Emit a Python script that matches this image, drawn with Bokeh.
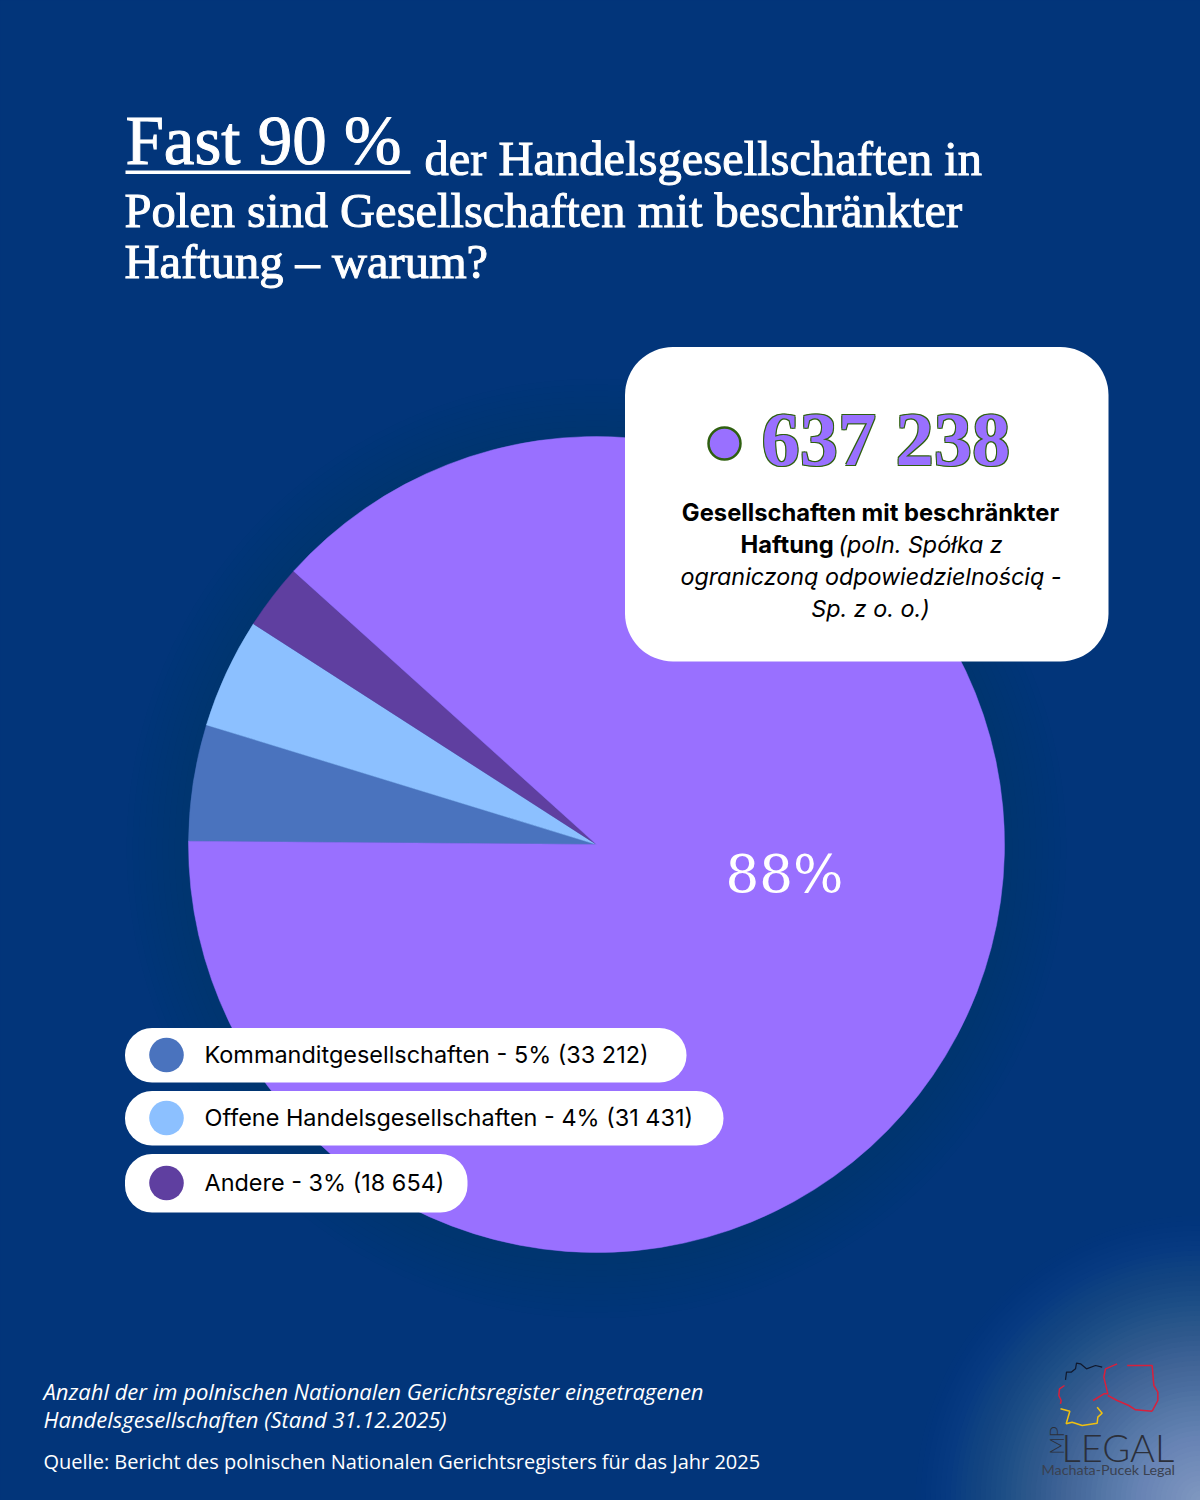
from math import pi
from bokeh.plotting import figure
from bokeh.models import Range1d
from bokeh.core.properties import value
from bokeh.embed import file_html
from bokeh.resources import INLINE

# ---- data ----
categories = ["Gesellschaften mit beschränkter Haftung", "Kommanditgesellschaften", "Offene Handelsgesellschaften", "Andere"]
counts = [637238, 33212, 31431, 18654]
colors = ["#9970ff", "#4a73be", "#8cc0ff", "#5f3fa0"]
legend_labels = ["Kommanditgesellschaften - 5% (33 212)", "Offene Handelsgesellschaften - 4% (31 431)", "Andere - 3% (18 654)"]
pie_label = "88%"
big_number = "637 238"
title_head = "Fast 90 %"
title_lines = ["der Handelsgesellschaften in", "Polen sind Gesellschaften mit beschränkter", "Haftung – warum?"]
footer_notes = ["Anzahl der im polnischen Nationalen Gerichtsregister eingetragenen", "Handelsgesellschaften (Stand 31.12.2025)"]
footer_source = "Quelle: Bericht des polnischen Nationalen Gerichtsregisters für das Jahr 2025"

BG = "#02357a"
GREEN = "#2f6010"
p = figure(width=1200, height=1500, x_range=Range1d(0, 1200), y_range=Range1d(1500, 0),
           toolbar_location=None, output_backend="svg", min_border=0, outline_line_color=None,
           background_fill_color=BG, border_fill_color=BG)
p.axis.visible = False
p.grid.visible = False


def T(x, y, s, size, font="Inter", style="normal", color="black", align="left", angle=0.0, **kw):
    # bokeh's svg text sits about 0.37 em below the requested alphabetic baseline
    p.text(x=[x], y=[y - 0.37 * size], text=[s], text_color=color, text_font=value(font), text_font_style=style,
           text_font_size=f"{size}px", text_align=align, text_baseline="alphabetic", angle=[angle], **kw)


# corner glow
for i in range(57):
    p.circle(x=[1200], y=[1500], radius=[285 - i * 5], fill_color="#aabfdc", fill_alpha=0.009 + 0.0007 * i, line_color=None)

# pie shadow
for i in range(10):
    p.circle(x=[596], y=[848], radius=[470 - i * 6], fill_color="#00224f", fill_alpha=0.015, line_color=None)

# pie: starts just above 9 o'clock and runs clockwise on screen
total = sum(counts)
cx, cy, r = 596, 844, 408
ang = 179.55 * pi / 180
for idx in [1, 2, 3, 0]:
    sweep = counts[idx] / total * 2 * pi
    p.wedge(x=[cx], y=[cy], radius=[r], start_angle=[ang - sweep], end_angle=[ang],
            fill_color=colors[idx], line_color=colors[idx], line_width=0.5)
    ang -= sweep

T(784, 893, pie_label, 53, font="DejaVu Serif", color="white", align="center")

# callout
p.quad(left=[624.5], right=[1108], top=[346.5], bottom=[661], fill_color="white", line_color=None, border_radius=48)
p.circle(x=[724], y=[443], radius=[16], fill_color=colors[0], line_color=GREEN, line_width=2.5)
for dx, dy in [(-1, -1), (1, -1), (-1, 1), (1, 1)]:
    T(761 + dx, 467.5 + dy, big_number, 76.5, font="Liberation Serif", style="bold", color=GREEN)
T(761, 467.5, big_number, 76.5, font="Liberation Serif", style="bold", color=colors[0])
T(870, 521, "Gesellschaften mit beschränkter", 23.75, style="bold", align="center")
T(740, 553, "Haftung", 23.75, style="bold")
T(838, 553, "(poln. Spółka z", 23.3, style="italic")
T(870.5, 585, "ograniczoną odpowiedzielnością -", 23.3, style="italic", align="center")
T(870, 617, "Sp. z o. o.)", 23.3, style="italic", align="center")

# legend pills
pill_right = [686, 723, 467]
pill_top = [1028, 1091, 1154]
pill_bottom = [1082, 1145, 1212]
for i, label in enumerate(legend_labels):
    mid = (pill_top[i] + pill_bottom[i]) / 2
    p.quad(left=[124.5], right=[pill_right[i]], top=[pill_top[i] - 0.5], bottom=[pill_bottom[i]],
           fill_color="white", line_color=None, border_radius=27)
    p.circle(x=[166], y=[mid - 0.5], radius=[17.3], fill_color=colors[i + 1], line_color=None)
    T(204, mid + 7.5, label, 23.45)

# title
T(125, 166.5, title_head, 69, font="Liberation Serif", color="white", outline_color="white")
p.quad(left=[125], right=[410], top=[170], bottom=[173.5], fill_color="white", line_color=None)
T(424, 175.5, title_lines[0], 48.5, font="Liberation Serif", color="white", outline_color="white")
T(124, 227.5, title_lines[1], 48.5, font="Liberation Serif", color="white", outline_color="white")
T(124, 278.5, title_lines[2], 48.5, font="Liberation Serif", color="white", outline_color="white")

# footer
for txt, y in zip(footer_notes, [1398.5, 1426.5]):
    T(43, y, txt, 22, font="Open Sans", style="italic", color="white")
T(43, 1468.5, footer_source, 20, font="Open Sans", color="white")

# logo: outlines (zoom coordinates → page)
def lx(v): return [940 + a / 3 for a in v]
def ly(v): return [1260 + a / 3 for a in v]
p.line(lx([375, 378, 392, 405, 408, 420, 438, 465, 485]), ly([358, 335, 335, 325, 308, 310, 325, 315, 320]), line_color="#10182c", line_width=1.2)
p.line(lx([372, 357, 355, 362, 360]), ly([375, 385, 405, 420, 430]), line_color="#d8203c", line_width=1.5)
p.line(lx([360, 388, 377, 395, 425, 470, 472, 485, 470]), ly([445, 452, 490, 485, 495, 488, 470, 458, 440]), line_color="#f0c010", line_width=1.5)
p.line(lx([458, 490, 502, 490, 495, 530]), ly([420, 400, 400, 350, 325, 310]), line_color="#d8203c", line_width=1.5)
p.line(lx([560, 635, 640, 652, 652, 635]), ly([315, 315, 375, 395, 420, 452]), line_color="#d8203c", line_width=1.5)
p.line(lx([502, 530, 565, 585, 635]), ly([405, 420, 435, 448, 452]), line_color="#d8203c", line_width=1.5)
T(1061, 1461, "LEGAL", 38, font="Lato Light", color="#2b2f3a")
T(1056, 1461, "MP", 19, font="Lato Light", color="#2b2f3a", angle=pi / 2)
T(1041, 1474, "Machata-Pucek Legal", 14.3, font="Lato", color="#3a4150")

html = file_html(p, INLINE).replace("</head>", "<style>html,body{background:" + BG + "}</style></head>", 1)
open("out.html", "w").write(html)
